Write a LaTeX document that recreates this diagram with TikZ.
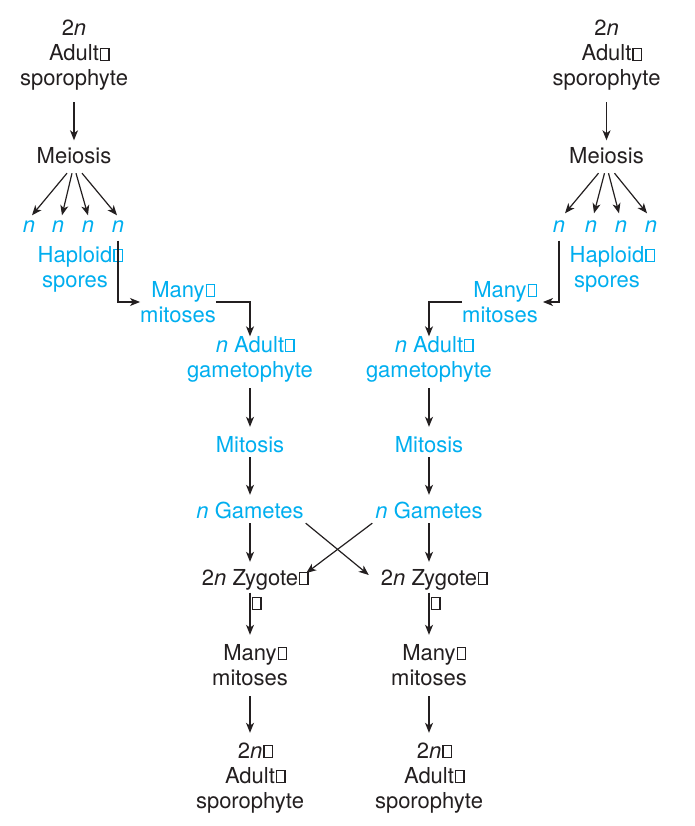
\documentclass[tikz,border=0pt]{standalone}
\usepackage{fontspec}
\setmainfont{TeX Gyre Heros}
\usetikzlibrary{arrows.meta}
\definecolor{cy}{HTML}{00AEEF}
\definecolor{ink}{HTML}{231F20}
\newcommand{\bx}{\rlap{\kern1pt\vbox{\hrule height1.3pt\hbox{\vrule width1.3pt height10.5pt\kern7pt\vrule width1.3pt}\hrule height1.3pt}}}
\newcommand{\blk}[1]{\begin{tabular}[t]{@{}c@{}}#1\end{tabular}}
\tikzset{
  lbl/.style={inner sep=0pt, anchor=base, text=ink, font=\fontsize{22}{25}\selectfont},
  clbl/.style={lbl, text=cy},
  arr/.style={draw=ink, line width=1.2pt, -{Stealth[length=10pt,width=8pt,inset=2.8pt]}, shorten >=7pt},
}
\begin{document}
\begin{tikzpicture}[x=1pt,y=-1pt]
\useasboundingbox (0,0) rectangle (694,826);
% ---------- left branch ----------
\node[lbl]  (topL)  at (74,36)   {\blk{2\textit{n}\\Adult\bx\\sporophyte}};
\node[lbl]  (meiL)  at (74,164)  {\blk{Meiosis}};
\node[clbl] (nL1)   at (29,233)  {\blk{\textit{n}}};
\node[clbl] (nL2)   at (58,233)  {\blk{\textit{n}}};
\node[clbl] (nL3)   at (88,233)  {\blk{\textit{n}}};
\node[clbl] (nL4)   at (118,233) {\blk{\textit{n}}};
\node[clbl] (hapL)  at (75,262)  {\blk{Haploid\bx\\spores}};
\node[clbl] (manyL) at (178,297) {\blk{Many\bx\\mitoses}};
\node[clbl] (gamL)  at (250,352) {\blk{\textit{n} Adult\bx\\gametophyte}};
\node[clbl] (mitL)  at (250,452) {\blk{Mitosis}};
\node[clbl] (gaL)   at (250,518) {\blk{\textit{n} Gametes}};
\node[lbl]  (zyL)   at (250,585) {\blk{2\textit{n} Zygote\bx}};
\node[lbl]  (zbL)   at (251,610) {\bx};
\node[lbl]  (mmL)   at (250,660) {\blk{Many\bx\\mitoses}};
\node[lbl]  (adL)   at (250,758) {\blk{2\textit{n}\bx\\Adult\bx\\sporophyte}};
% ---------- right branch ----------
\node[lbl]  (topR)  at (606.5,36)  {\blk{2\textit{n}\\Adult\bx\\sporophyte}};
\node[lbl]  (meiR)  at (606.5,164) {\blk{Meiosis}};
\node[clbl] (nR1)   at (559,233)  {\blk{\textit{n}}};
\node[clbl] (nR2)   at (591,233)  {\blk{\textit{n}}};
\node[clbl] (nR3)   at (621,233)  {\blk{\textit{n}}};
\node[clbl] (nR4)   at (651,233)  {\blk{\textit{n}}};
\node[clbl] (hapR)  at (607,262)  {\blk{Haploid\bx\\spores}};
\node[clbl] (manyR) at (500,297)  {\blk{Many\bx\\mitoses}};
\node[clbl] (gamR)  at (429,352)  {\blk{\textit{n} Adult\bx\\gametophyte}};
\node[clbl] (mitR)  at (429,452)  {\blk{Mitosis}};
\node[clbl] (gaR)   at (429,518)  {\blk{\textit{n} Gametes}};
\node[lbl]  (zyR)   at (429,585)  {\blk{2\textit{n} Zygote\bx}};
\node[lbl]  (zbR)   at (430,610)  {\bx};
\node[lbl]  (mmR)   at (429,660)  {\blk{Many\bx\\mitoses}};
\node[lbl]  (adR)   at (429,758)  {\blk{2\textit{n}\bx\\Adult\bx\\sporophyte}};
% ---------- left connectors ----------
\draw[arr, shorten <=8.5pt, shorten >=6pt] (topL.south) -- (meiL.north);
\draw[arr, shorten >=0pt] ([shift={(-7,1.5)}]meiL.south) -- ([shift={(3,0)}]nL1.north);
\draw[arr, shorten >=0pt] ([shift={(-2,1.5)}]meiL.south) -- ([shift={(4,0)}]nL2.north);
\draw[arr, shorten >=0pt] ([shift={(2,1.5)}]meiL.south) -- ([shift={(0,0)}]nL3.north);
\draw[arr, shorten >=0pt] ([shift={(8,1.5)}]meiL.south) -- ([shift={(-1,0)}]nL4.north);
\draw[arr, shorten >=0pt] (nL4.south) |- ([shift={(0,-2.5)}]manyL.west);
\draw[arr, shorten >=-2pt] ([shift={(0,-2.5)}]manyL.east) -| (gamL.north);
\draw[arr, shorten <=3.5pt, shorten >=7.5pt] (gamL.south) -- (mitL.north);
\draw[arr, shorten <=-2.5pt, shorten >=5.5pt] (mitL.south) -- (gaL.north);
\draw[arr, shorten <=-2.5pt, shorten >=5.5pt] (gaL.south) -- (zyL.north);
\draw[arr, shorten >=7.5pt] (zyL.south) -- (mmL.north);
\draw[arr, shorten <=3.5pt, shorten >=7.5pt] (mmL.south) -- (adL.north);
% ---------- right connectors ----------
\draw[arr, shorten <=8.5pt, shorten >=6pt] (topR.south) -- (meiR.north);
\draw[arr, shorten >=0pt] ([shift={(-8,1.5)}]meiR.south) -- ([shift={(6,-2)}]nR1.north);
\draw[arr, shorten >=0pt] ([shift={(-2,1.5)}]meiR.south) -- ([shift={(3,-2)}]nR2.north);
\draw[arr, shorten >=0pt] ([shift={(2,1.5)}]meiR.south) -- ([shift={(-2,-2)}]nR3.north);
\draw[arr, shorten >=0pt] ([shift={(8,1.5)}]meiR.south) -- ([shift={(-4,-2)}]nR4.north);
\draw[arr, shorten >=0pt] (nR1.south) |- ([shift={(5,-2.5)}]manyR.east);
\draw[arr, shorten >=-2pt] ([shift={(0,-2.5)}]manyR.west) -| (gamR.north);
\draw[arr, shorten <=3.5pt, shorten >=7.5pt] (gamR.south) -- (mitR.north);
\draw[arr, shorten <=-2.5pt, shorten >=5.5pt] (mitR.south) -- (gaR.north);
\draw[arr, shorten <=-2.5pt, shorten >=5.5pt] (gaR.south) -- (zyR.north);
\draw[arr, shorten >=7.5pt] (zyR.south) -- (mmR.north);
\draw[arr, shorten <=3.5pt, shorten >=7.5pt] (mmR.south) -- (adR.north);
% ---------- crossing gamete arrows ----------
\draw[arr, shorten >=0pt] ([shift={(2,-2.5)}]gaL.south east) -- ([shift={(-12,-5)}]zyR.west);
\draw[arr, shorten >=0pt] ([shift={(-3,-2.5)}]gaR.south west) -- ([shift={(8,-7)}]zyL.east);
\end{tikzpicture}
\end{document}
